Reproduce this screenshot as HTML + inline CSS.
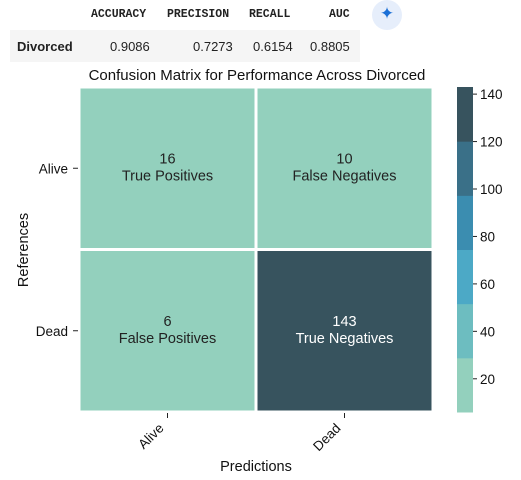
<!DOCTYPE html>
<html><head><meta charset="utf-8"><style>
body{margin:0;width:521px;height:480px;background:#fff;font-family:"Liberation Sans",sans-serif;position:relative;overflow:hidden}
.hdr{position:absolute;top:8px;font-family:"Liberation Mono",monospace;font-weight:bold;font-size:11.5px;color:#222}
.row{position:absolute;left:10px;top:30px;width:350px;height:32px;background:#f5f5f5}
.cell{position:absolute;top:39px;font-size:13px;color:#222}
</style></head><body>
<div>
<span class="hdr" style="left:91px">ACCURACY</span>
<span class="hdr" style="left:167px">PRECISION</span>
<span class="hdr" style="left:249px">RECALL</span>
<span class="hdr" style="left:329px">AUC</span>
<div class="row"></div>
<span class="cell" style="left:17px;font-weight:bold">Divorced</span>
<span class="cell" style="left:110px">0.9086</span>
<span class="cell" style="left:193px">0.7273</span>
<span class="cell" style="left:253px">0.6154</span>
<span class="cell" style="left:310px">0.8805</span>
</div>
<div style="position:absolute;left:372px;top:0;width:30px;height:30px;border-radius:15px;background:#e6eefb;color:#1a6fd6;font-size:17px;text-align:center;line-height:28px">✦</div>
<svg id="chart" width="521" height="480" style="position:absolute;left:0;top:0" font-family="Liberation Sans, sans-serif"></svg>
<script>
const labels=["Alive","Dead"];
const values=[[16,10],[6,143]];
const names=[["True Positives","False Negatives"],["False Positives","True Negatives"]];
const cbTicks=[20,40,60,80,100,120,140];
const colors=["#93d0bd","#6dbdc0","#4ca9c6","#3b8db0","#3a7088","#37535e"];
const svg=document.getElementById('chart');const NS="http://www.w3.org/2000/svg";
function mk(t,a,txt){const e=document.createElementNS(NS,t);for(const k in a)e.setAttribute(k,a[k]);if(txt!==undefined)e.textContent=txt;svg.appendChild(e);return e;}
const X0=79,Y0=87,W=354,H=325;const cw=W/2,ch=H/2;
const flat=values.flat();const vmin=Math.min(...flat),vmax=Math.max(...flat);
function col(v){let i=Math.floor((v-vmin)/(vmax-vmin)*colors.length);return colors[Math.min(colors.length-1,Math.max(0,i))];}
let t=mk('text',{x:257,y:80,'text-anchor':'middle','font-size':15,fill:'#111'},'Confusion Matrix for Performance Across Divorced');


for(let r=0;r<2;r++)for(let c=0;c<2;c++){
 const v=values[r][c];
 const rc=mk('rect',{x:X0+c*cw,y:Y0+r*ch,width:cw,height:ch,fill:col(v),stroke:'#fff','stroke-width':3});
 
 
 const tc=v>70?'#fff':'#222';
 const a=mk('text',{x:X0+c*cw+cw/2,y:Y0+r*ch+ch/2-5,'text-anchor':'middle','font-size':14.5,fill:tc},v);
 
 
 const b=mk('text',{x:X0+c*cw+cw/2,y:Y0+r*ch+ch/2+12,'text-anchor':'middle','font-size':14.5,fill:tc},names[r][c]);
 
 
}
for(let i=0;i<2;i++){
 const y=Y0+i*ch+ch/2;
 mk('line',{x1:X0-6,x2:X0-1,y1:y,y2:y,stroke:'#222'});
 const l=mk('text',{x:X0-11,y:y+5,'text-anchor':'end','font-size':13.5,fill:'#111'},labels[i]);
 
 
 const x=X0+i*cw+cw/2;
 mk('line',{x1:x,x2:x,y1:Y0+H+1,y2:Y0+H+6,stroke:'#222'});
 const xl=mk('text',{x:x-3,y:Y0+H+17,'text-anchor':'end','font-size':13.5,fill:'#111',transform:`rotate(-45 ${x-3} ${Y0+H+17})`},labels[i]);
 
 
}
let xt=mk('text',{x:256,y:471,'text-anchor':'middle','font-size':14.5,fill:'#111'},'Predictions');


let yt=mk('text',{x:28,y:250,'text-anchor':'middle','font-size':14.5,fill:'#111',transform:'rotate(-90 28 250)'},'References');


const CX=457,CW=16;
function cy(v){return Y0+H-(v-vmin)/(vmax-vmin)*H;}
const step=(vmax-vmin)/colors.length;
colors.forEach((c,i)=>{
 const y1=cy(vmin+(i+1)*step),y2=cy(vmin+i*step);
 const r=mk('rect',{x:CX,y:y1,width:CW,height:y2-y1+0.5,fill:c});
 
 
});
cbTicks.forEach(v=>{
 const y=cy(v);
 mk('line',{x1:CX+CW,x2:CX+CW+4,y1:y,y2:y,stroke:'#222'});
 const l=mk('text',{x:CX+CW+7,y:y+5,'font-size':13.5,fill:'#111'},v);
 
 
});
</script>
</body></html>
